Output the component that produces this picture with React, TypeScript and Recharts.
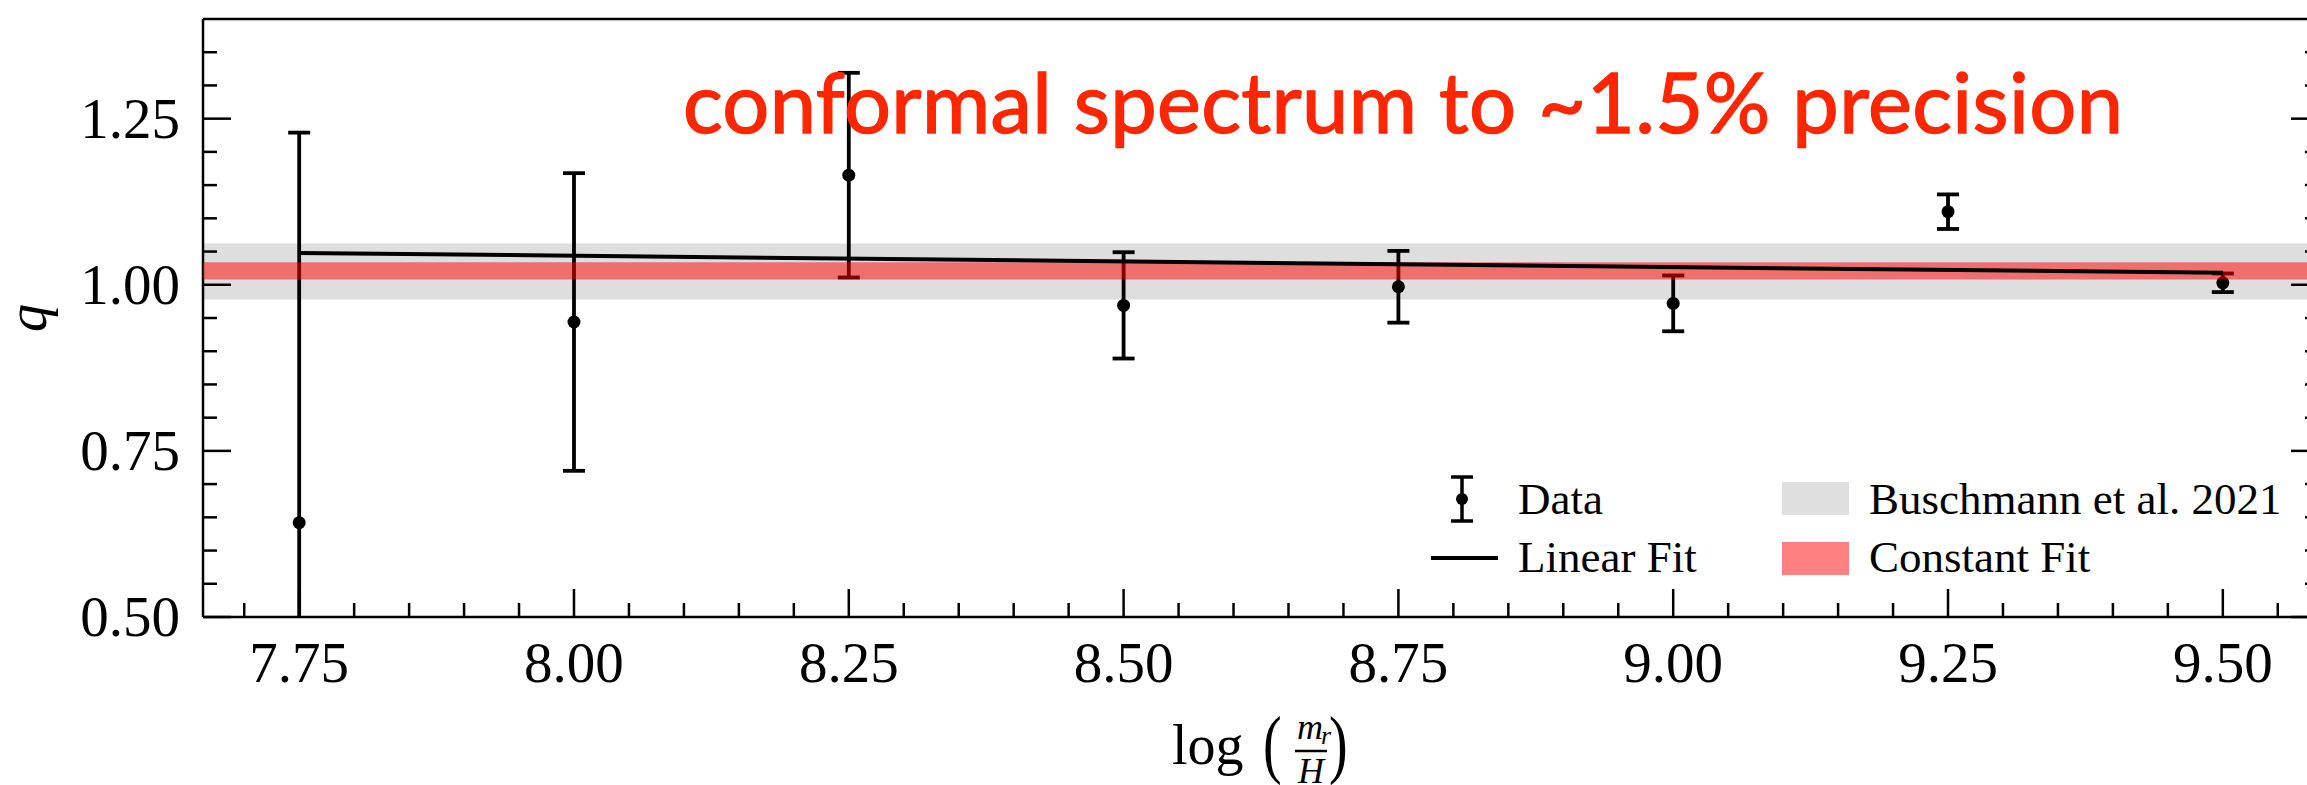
import React from 'react';
import {
  ComposedChart,
  XAxis,
  YAxis,
  Scatter,
  ErrorBar,
  Line,
  ReferenceArea,
  Legend,
  Label,
} from 'recharts';

// measurements, log(m_r / H) vs q
const massX = [7.75, 8.0, 8.25, 8.5, 8.75, 9.0, 9.25, 9.5];
const qValues = [0.642, 0.944, 1.165, 0.969, 0.997, 0.972, 1.11, 1.003];
const qErrors = [0.587, 0.224, 0.154, 0.08, 0.054, 0.042, 0.026, 0.014];

// linear fit end points
const fitX = [7.75, 9.5];
const fitQ = [1.048, 1.018];

// horizontal bands [low, high]
const buschmannBand = [0.978, 1.062];
const constantBand = [1.008, 1.034];

const xMajorTicks = [7.75, 8.0, 8.25, 8.5, 8.75, 9.0, 9.25, 9.5];
const xMinorTicks = [
  7.7, 7.8, 7.85, 7.9, 7.95, 8.05, 8.1, 8.15, 8.2, 8.3, 8.35, 8.4, 8.45, 8.55, 8.6,
  8.65, 8.7, 8.8, 8.85, 8.9, 8.95, 9.05, 9.1, 9.15, 9.2, 9.3, 9.35, 9.4, 9.45, 9.55,
];
const yMajorTicks = [0.5, 0.75, 1.0, 1.25];
const yMinorTicks = [0.55, 0.6, 0.65, 0.7, 0.8, 0.85, 0.9, 0.95, 1.05, 1.1, 1.15, 1.2, 1.3, 1.35];

const xDomain: [number, number] = [7.6625, 9.5875];
const yDomain: [number, number] = [0.5, 1.4];

const SERIF = '"Liberation Serif", "DejaVu Serif", serif';
const MAJOR = 28;
const MINOR = 14;

// plot box, used only to clip the error bars like matplotlib does
const PLOT = { left: 203, top: 19, width: 2116, height: 598 };

const points = massX.map((x, i) => ({ x, q: qValues[i], err: qErrors[i] }));
const fitData = fitX.map((x, i) => ({ x, fit: fitQ[i] }));
const xTicks = [...xMajorTicks, ...xMinorTicks].sort((a, b) => a - b);
const yTicks = [...yMajorTicks, ...yMinorTicks].sort((a, b) => a - b);

const isMajor = (list: number[], v: number) => list.some((t) => Math.abs(t - v) < 1e-6);

function BottomTick({ x, y, payload }: any) {
  const major = isMajor(xMajorTicks, payload.value);
  return (
    <g>
      <line x1={x} x2={x} y1={y} y2={y - (major ? MAJOR : MINOR)} stroke="#000" strokeWidth={2.5} />
      {major && (
        <text x={x} y={y + 65} textAnchor="middle" fontSize={57} fontFamily={SERIF} fill="#000">
          {payload.value.toFixed(2)}
        </text>
      )}
    </g>
  );
}

function TopTick({ x, y, payload }: any) {
  const major = isMajor(xMajorTicks, payload.value);
  return <line x1={x} x2={x} y1={y} y2={y + (major ? MAJOR : MINOR)} stroke="#000" strokeWidth={2.5} />;
}

function LeftTick({ x, y, payload }: any) {
  const major = isMajor(yMajorTicks, payload.value);
  return (
    <g>
      <line x1={x} x2={x + (major ? MAJOR : MINOR)} y1={y} y2={y} stroke="#000" strokeWidth={2.5} />
      {major && (
        <text x={x - 23} y={y + 19} textAnchor="end" fontSize={57} fontFamily={SERIF} fill="#000">
          {payload.value.toFixed(2)}
        </text>
      )}
    </g>
  );
}

function RightTick({ x, y, payload }: any) {
  const major = isMajor(yMajorTicks, payload.value);
  return <line x1={x} x2={x - (major ? MAJOR : MINOR)} y1={y} y2={y} stroke="#000" strokeWidth={2.5} />;
}

function XTitle() {
  return (
    <g fill="#000" fontFamily={SERIF}>
      <text x={1172} y={764} fontSize={56}>log</text>
      <text transform="translate(1263,769) scale(1,1.35)" fontSize={56}>(</text>
      <text x={1297} y={739} fontSize={36} fontStyle="italic">m</text>
      <text x={1321} y={744} fontSize={26} fontStyle="italic">r</text>
      <line x1={1295} x2={1327} y1={751} y2={751} stroke="#000" strokeWidth={2.5} />
      <text x={1298} y={783} fontSize={36} fontStyle="italic">H</text>
      <text transform="translate(1329,769) scale(1,1.35)" fontSize={56}>)</text>
    </g>
  );
}

function YTitle() {
  return (
    <text
      transform="translate(46,318) rotate(-90)"
      textAnchor="middle"
      fontSize={56}
      fontStyle="italic"
      fontFamily={SERIF}
      fill="#000"
    >
      q
    </text>
  );
}

function LegendBox() {
  const text = { fontSize: 45, fontFamily: SERIF, fill: '#000' };
  return (
    <svg width={880} height={130}>
      <line x1={42} x2={42} y1={12} y2={56} stroke="#000" strokeWidth={3.5} />
      <line x1={31} x2={53} y1={12} y2={12} stroke="#000" strokeWidth={3.5} />
      <line x1={31} x2={53} y1={56} y2={56} stroke="#000" strokeWidth={3.5} />
      <circle cx={42} cy={34} r={6} fill="#000" />
      <text x={98} y={49} {...text}>Data</text>
      <line x1={11} x2={78} y1={93} y2={93} stroke="#000" strokeWidth={4} />
      <text x={98} y={107} {...text}>Linear Fit</text>
      <rect x={362} y={17} width={67} height={33} fill="#dfdfdf" />
      <text x={449} y={49} {...text}>Buschmann et al. 2021</text>
      <rect x={362} y={77} width={67} height={33} fill="#ff8080" />
      <text x={449} y={107} {...text}>Constant Fit</text>
    </svg>
  );
}

export default function App() {
  return (
    <div style={{ position: 'absolute', left: 0, top: 0, width: 2307, height: 785, overflow: 'hidden', background: '#fff' }}>
      <svg width={0} height={0} style={{ position: 'absolute' }}>
        <defs>
          <clipPath id="plotClip" clipPathUnits="userSpaceOnUse">
            <rect x={PLOT.left} y={PLOT.top} width={PLOT.width} height={PLOT.height} />
          </clipPath>
        </defs>
      </svg>
      <ComposedChart width={2340} height={785} margin={{ top: 0, right: 0, bottom: 0, left: 0 }}>
        <XAxis
          xAxisId="b"
          dataKey="x"
          type="number"
          domain={xDomain}
          allowDataOverflow
          ticks={xTicks}
          interval={0}
          height={168}
          tickSize={0}
          tickMargin={0}
          tickLine={false}
          axisLine={{ stroke: '#000', strokeWidth: 2.5 }}
          tick={<BottomTick />}
        >
          <Label content={() => <XTitle />} />
        </XAxis>
        <XAxis
          xAxisId="t"
          orientation="top"
          type="number"
          domain={xDomain}
          allowDataOverflow
          ticks={xTicks}
          interval={0}
          height={19}
          tickSize={0}
          tickMargin={0}
          tickLine={false}
          axisLine={{ stroke: '#000', strokeWidth: 2.5 }}
          tick={<TopTick />}
        />
        <YAxis
          yAxisId="l"
          dataKey="q"
          type="number"
          domain={yDomain}
          allowDataOverflow
          ticks={yTicks}
          interval={0}
          width={203}
          tickSize={0}
          tickMargin={0}
          tickLine={false}
          axisLine={{ stroke: '#000', strokeWidth: 2.5 }}
          tick={<LeftTick />}
        >
          <Label content={() => <YTitle />} />
        </YAxis>
        <YAxis
          yAxisId="r"
          orientation="right"
          type="number"
          domain={yDomain}
          allowDataOverflow
          ticks={yTicks}
          interval={0}
          width={21}
          tickSize={0}
          tickMargin={0}
          tickLine={false}
          axisLine={{ stroke: '#000', strokeWidth: 2.5 }}
          tick={<RightTick />}
        />
        <ReferenceArea
          xAxisId="b"
          yAxisId="l"
          y1={buschmannBand[0]}
          y2={buschmannBand[1]}
          fill="#dedede"
          fillOpacity={1}
          stroke="none"
          zIndex={50}
        />
        <Scatter
          xAxisId="b"
          yAxisId="l"
          data={points}
          dataKey="q"
          isAnimationActive={false}
          shape={(p: any) => <circle cx={p.cx} cy={p.cy} r={6.5} fill="#000" />}
        >
          <ErrorBar
            dataKey="err"
            direction="y"
            width={11}
            strokeWidth={3.8}
            stroke="#000"
            clipPath="url(#plotClip)"
          />
        </Scatter>
        <ReferenceArea
          xAxisId="b"
          yAxisId="l"
          y1={constantBand[0]}
          y2={constantBand[1]}
          fill="#ff0000"
          fillOpacity={0.5}
          stroke="none"
          zIndex={700}
        />
        <Line
          xAxisId="b"
          yAxisId="l"
          data={fitData}
          dataKey="fit"
          stroke="#000"
          strokeWidth={4}
          dot={false}
          activeDot={false}
          isAnimationActive={false}
          zIndex={800}
        />
        <Legend
          layout="vertical"
          align="center"
          verticalAlign="middle"
          wrapperStyle={{ left: 1420, top: 465, width: 880, height: 130 }}
          content={() => <LegendBox />}
        />
      </ComposedChart>
      <svg
        width={2307}
        height={785}
        style={{ position: 'absolute', left: 0, top: 0, pointerEvents: 'none' }}
      >
        <text
          x={683}
          y={133}
          fontSize={83}
          fontFamily="Lato, 'Open Sans', sans-serif"
          fill="#ff2600"
          stroke="#ff2600"
          strokeWidth={1.4}
          textLength={1440}
        >
          conformal spectrum to ~1.5% precision
        </text>
      </svg>
    </div>
  );
}
